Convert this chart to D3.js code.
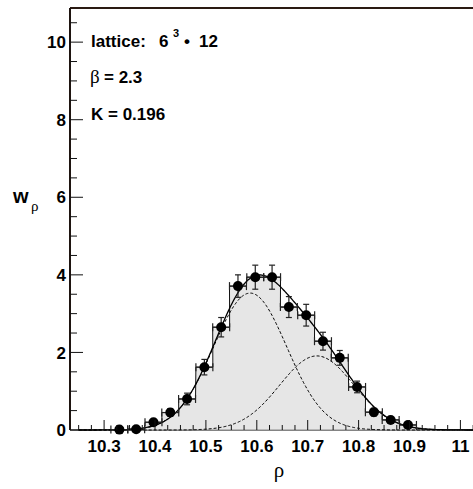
<!DOCTYPE html>
<html>
<head>
<meta charset="utf-8">
<script src="https://cdn.jsdelivr.net/npm/d3@7"></script>
<style>
  body { margin: 0; background: #fff; }
  svg text { font-family: "Liberation Sans", Arial, sans-serif; }
</style>
</head>
<body>
<svg id="chart" width="473" height="489"></svg>
<script>
// histogram bins (rho) and measured weights
const binCenters = [10.330, 10.363, 10.397, 10.430, 10.463, 10.497, 10.530, 10.563, 10.597,
                    10.630, 10.663, 10.697, 10.730, 10.763, 10.797, 10.830, 10.863, 10.897];
const binWidth = 0.0333;
const weights = [0.01, 0.02, 0.20, 0.45, 0.80, 1.62, 2.65, 3.71, 3.94,
                 3.94, 3.17, 2.96, 2.29, 1.86, 1.11, 0.46, 0.26, 0.13];
const errors  = [0.02, 0.03, 0.06, 0.10, 0.15, 0.20, 0.25, 0.29, 0.31,
                 0.31, 0.27, 0.28, 0.23, 0.19, 0.15, 0.10, 0.07, 0.05];

// two gaussian fit components
const fitAmp   = [3.53, 1.91];
const fitMean  = [10.587, 10.718];
const fitSigma = [0.072, 0.073];

const xTicks = [10.3, 10.4, 10.5, 10.6, 10.7, 10.8, 10.9, 11];
const xTickLabels = ["10.3", "10.4", "10.5", "10.6", "10.7", "10.8", "10.9", "11"];
const yTicks = [0, 2, 4, 6, 8, 10];

const svg = d3.select("#chart");
const plotLeft = 70, plotTop = 8, plotBottom = 430;

const x = d3.scaleLinear().domain([10.233, 11.05]).range([plotLeft, plotLeft + 0.817 * 509]);
const y = d3.scaleLinear().domain([0, 10.88]).range([plotBottom, plotTop]);

function gauss(i, v) {
  return fitAmp[i] * Math.exp(-Math.pow(v - fitMean[i], 2) / (2 * fitSigma[i] * fitSigma[i]));
}

// x axis line first so that the fill sits on it
svg.append("line").attr("x1", plotLeft).attr("x2", 473).attr("y1", plotBottom).attr("y2", plotBottom)
  .attr("stroke", "#000").attr("stroke-width", 1.2);

// step histogram
let steps = [];
binCenters.forEach((c, i) => {
  steps.push([c - binWidth / 2, weights[i]]);
  steps.push([c + binWidth / 2, weights[i]]);
});
let area = d3.area().x(d => x(d[0])).y0(y(0)).y1(d => y(d[1]));
svg.append("path").datum(steps).attr("d", area).attr("fill", "#e6e6e6");
svg.append("line")
  .attr("x1", x(binCenters[0] - binWidth / 2)).attr("x2", x(binCenters[binCenters.length - 1] + binWidth / 2))
  .attr("y1", plotBottom).attr("y2", plotBottom).attr("stroke", "#8a8a8a").attr("stroke-width", 1.2);

let outline = [[binCenters[0] - binWidth / 2, 0]].concat(steps)
  .concat([[binCenters[binCenters.length - 1] + binWidth / 2, 0]]);
svg.append("path").datum(outline)
  .attr("d", d3.line().x(d => x(d[0])).y(d => y(d[1])))
  .attr("fill", "none").attr("stroke", "#111").attr("stroke-width", 1);

// fit curves
const xs = d3.range(10.25, 11.04, 0.002);
const line = d3.line().x(d => x(d[0])).y(d => y(d[1]));
[0, 1].forEach(i => {
  svg.append("path").datum(xs.map(v => [v, gauss(i, v)])).attr("d", line)
    .attr("fill", "none").attr("stroke", "#000").attr("stroke-width", 1)
    .attr("stroke-dasharray", "3,2");
});
svg.append("path").datum(xs.map(v => [v, gauss(0, v) + gauss(1, v)])).attr("d", line)
  .attr("fill", "none").attr("stroke", "#000").attr("stroke-width", 1.3);

// error bars
const g = svg.append("g").attr("stroke", "#222").attr("stroke-width", 1.2);
binCenters.forEach((c, i) => {
  const cx = x(c), cy = y(weights[i]);
  const xl = x(c - binWidth / 2), xr = x(c + binWidth / 2);
  g.append("line").attr("x1", xl).attr("x2", xr).attr("y1", cy).attr("y2", cy);
  g.append("line").attr("x1", xl).attr("x2", xl).attr("y1", cy - 4).attr("y2", cy + 4);
  g.append("line").attr("x1", xr).attr("x2", xr).attr("y1", cy - 4).attr("y2", cy + 4);
  const yt = y(weights[i] + errors[i]), yb = y(Math.max(0, weights[i] - errors[i]));
  g.append("line").attr("x1", cx).attr("x2", cx).attr("y1", yt).attr("y2", yb);
  g.append("line").attr("x1", cx - 3).attr("x2", cx + 3).attr("y1", yt).attr("y2", yt);
  g.append("line").attr("x1", cx - 3).attr("x2", cx + 3).attr("y1", yb).attr("y2", yb);
});

svg.selectAll("circle.pt").data(binCenters).enter().append("circle")
  .attr("class", "pt")
  .attr("cx", d => x(d)).attr("cy", (d, i) => y(weights[i])).attr("r", 5).attr("fill", "#000");

// frame
svg.append("line").attr("x1", plotLeft).attr("x2", 473).attr("y1", plotTop).attr("y2", plotTop)
  .attr("stroke", "#2a1a12").attr("stroke-width", 2);
svg.append("line").attr("x1", plotLeft).attr("x2", plotLeft).attr("y1", plotTop).attr("y2", plotBottom)
  .attr("stroke", "#1e1410").attr("stroke-width", 2);

// y ticks
d3.range(0, 10.6, 0.5).forEach(v => {
  const major = yTicks.indexOf(v) >= 0;
  svg.append("line").attr("x1", plotLeft).attr("x2", plotLeft + (major ? 13 : 7))
    .attr("y1", y(v)).attr("y2", y(v)).attr("stroke", "#111").attr("stroke-width", 1);
});
svg.selectAll("text.yt").data(yTicks).enter().append("text")
  .attr("x", 66).attr("y", d => y(d)).attr("dy", "0.36em")
  .attr("text-anchor", "end").attr("font-weight", "bold").attr("font-size", 17)
  .text(d => d);

// x ticks
d3.range(10.25, 11.04, 0.025).forEach(v => {
  const major = xTicks.some(t => Math.abs(t - v) < 1e-6);
  svg.append("line").attr("x1", x(v)).attr("x2", x(v))
    .attr("y1", plotBottom).attr("y2", plotBottom - (major ? 10 : 5))
    .attr("stroke", "#111").attr("stroke-width", 1);
});
svg.selectAll("text.xt").data(xTicks).enter().append("text")
  .attr("x", d => x(d)).attr("y", 452)
  .attr("text-anchor", "middle").attr("font-weight", "bold").attr("font-size", 17)
  .text((d, i) => xTickLabels[i]);

// axis titles
svg.append("text").attr("x", 13).attr("y", 203).attr("font-weight", "bold").attr("font-size", 20).text("w");
svg.append("text").attr("x", 31).attr("y", 211).attr("font-size", 15)
  .style("font-family", "'Liberation Serif', serif").text("ρ");
svg.append("text").attr("x", 279).attr("y", 477).attr("text-anchor", "middle").attr("font-size", 21)
  .style("font-family", "'Liberation Serif', serif").text("ρ");

// annotations
const b = svg.append("g").attr("font-weight", "bold").attr("font-size", 17);
b.append("text").attr("x", 91).attr("y", 47).text("lattice:");
b.append("text").attr("x", 159).attr("y", 47).text("6");
b.append("text").attr("x", 173).attr("y", 37).attr("font-size", 11).text("3");
b.append("text").attr("x", 184).attr("y", 47).text("•");
b.append("text").attr("x", 199).attr("y", 47).text("12");
svg.append("text").attr("x", 90).attr("y", 83).attr("font-size", 19)
  .style("font-family", "'Liberation Serif', serif").text("β");
b.append("text").attr("x", 104).attr("y", 83).text("= 2.3");
b.append("text").attr("x", 91).attr("y", 120).text("K = 0.196");
</script>
</body>
</html>
